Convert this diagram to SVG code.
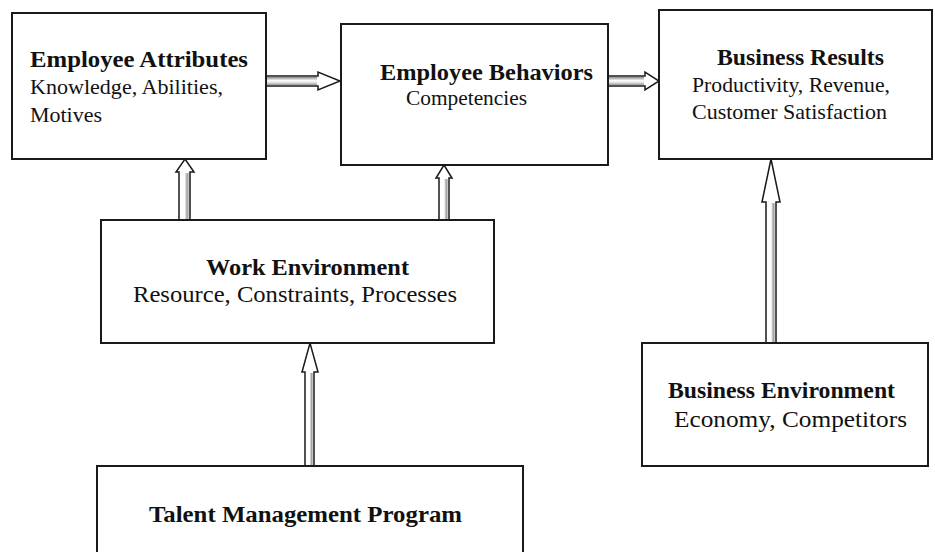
<svg xmlns="http://www.w3.org/2000/svg" width="935" height="552" viewBox="0 0 935 552">
<defs>
<linearGradient id="gh" x1="0" y1="0" x2="0" y2="1">
<stop offset="0" stop-color="#8a8a8a"/>
<stop offset="0.45" stop-color="#ffffff"/>
<stop offset="0.7" stop-color="#e0e0e0"/>
<stop offset="1" stop-color="#9a9a9a"/>
</linearGradient>
<linearGradient id="gv" x1="0" y1="0" x2="1" y2="0">
<stop offset="0" stop-color="#ffffff"/>
<stop offset="0.5" stop-color="#ffffff"/>
<stop offset="0.8" stop-color="#a0a0a0"/>
<stop offset="1" stop-color="#d8d8d8"/>
</linearGradient>
</defs>
<style>
.box{fill:#ffffff;stroke:#1a1a1a;stroke-width:2}
.arr{fill:#ffffff;stroke:#1a1a1a;stroke-width:1.5;stroke-linejoin:miter}
.t{font-family:"Liberation Serif","Times New Roman",serif;font-weight:bold;font-size:24px;fill:#111}
.s{font-family:"Liberation Serif","Times New Roman",serif;font-size:22px;fill:#111}
</style>
<rect width="935" height="552" fill="#ffffff"/>
<g id="connectors">
<polygon class="arr" points="264,76 318,76 318,72 340,81 318,90 318,86 264,86"/>
<rect x="265" y="77" width="52" height="8" fill="url(#gh)"/>
<polygon class="arr" points="608,76 645,76 645,72 659,81 645,90 645,86 608,86"/>
<rect x="609" y="77" width="35" height="8" fill="url(#gh)"/>
<polygon class="arr" points="179,220 179,172 176,172 185,159 194,172 190,172 190,220"/>
<rect x="180" y="173" width="9" height="46" fill="url(#gv)"/>
<polygon class="arr" points="439,220 439,178 436,178 444,165 452,178 449,178 449,220"/>
<rect x="440" y="179" width="8" height="40" fill="url(#gv)"/>
<polygon class="arr" points="305,466 305,372 302,372 310,343 318,372 314,372 314,466"/>
<rect x="306" y="373" width="7" height="92" fill="url(#gv)"/>
<polygon class="arr" points="766,343 766,202 762,202 771,159 780,202 776,202 776,343"/>
<rect x="767" y="203" width="8" height="139" fill="url(#gv)"/>
</g>
<g id="employee-attributes">
<rect class="box" x="12" y="13" width="254" height="146"/>
<text class="t" x="30" y="67" textLength="218" lengthAdjust="spacingAndGlyphs">Employee Attributes</text>
<text class="s" x="30" y="94" textLength="193" lengthAdjust="spacingAndGlyphs">Knowledge, Abilities,</text>
<text class="s" x="30" y="122" textLength="72" lengthAdjust="spacingAndGlyphs">Motives</text>
</g>
<g id="employee-behaviors">
<rect class="box" x="341" y="24" width="267" height="141"/>
<text class="t" x="380" y="80" textLength="213" lengthAdjust="spacingAndGlyphs">Employee Behaviors</text>
<text class="s" x="406" y="105" textLength="121" lengthAdjust="spacingAndGlyphs">Competencies</text>
</g>
<g id="business-results">
<rect class="box" x="659" y="10" width="273" height="149"/>
<text class="t" x="717" y="65" textLength="167" lengthAdjust="spacingAndGlyphs">Business Results</text>
<text class="s" x="692" y="92" textLength="198" lengthAdjust="spacingAndGlyphs">Productivity, Revenue,</text>
<text class="s" x="692" y="119" textLength="195" lengthAdjust="spacingAndGlyphs">Customer Satisfaction</text>
</g>
<g id="work-environment">
<rect class="box" x="101" y="220" width="393" height="123"/>
<text class="t" x="206" y="275" textLength="203" lengthAdjust="spacingAndGlyphs">Work Environment</text>
<text class="s" x="133" y="302" textLength="324" lengthAdjust="spacingAndGlyphs" style="font-size:24px">Resource, Constraints, Processes</text>
</g>
<g id="talent-management-program">
<rect class="box" x="97" y="466" width="426" height="100"/>
<text class="t" x="149" y="522" textLength="313" lengthAdjust="spacingAndGlyphs">Talent Management Program</text>
</g>
<g id="business-environment">
<rect class="box" x="642" y="343" width="286" height="123"/>
<text class="t" x="668" y="398" textLength="227" lengthAdjust="spacingAndGlyphs">Business Environment</text>
<text class="s" x="674" y="427" textLength="233" lengthAdjust="spacingAndGlyphs" style="font-size:24px">Economy, Competitors</text>
</g>
</svg>
